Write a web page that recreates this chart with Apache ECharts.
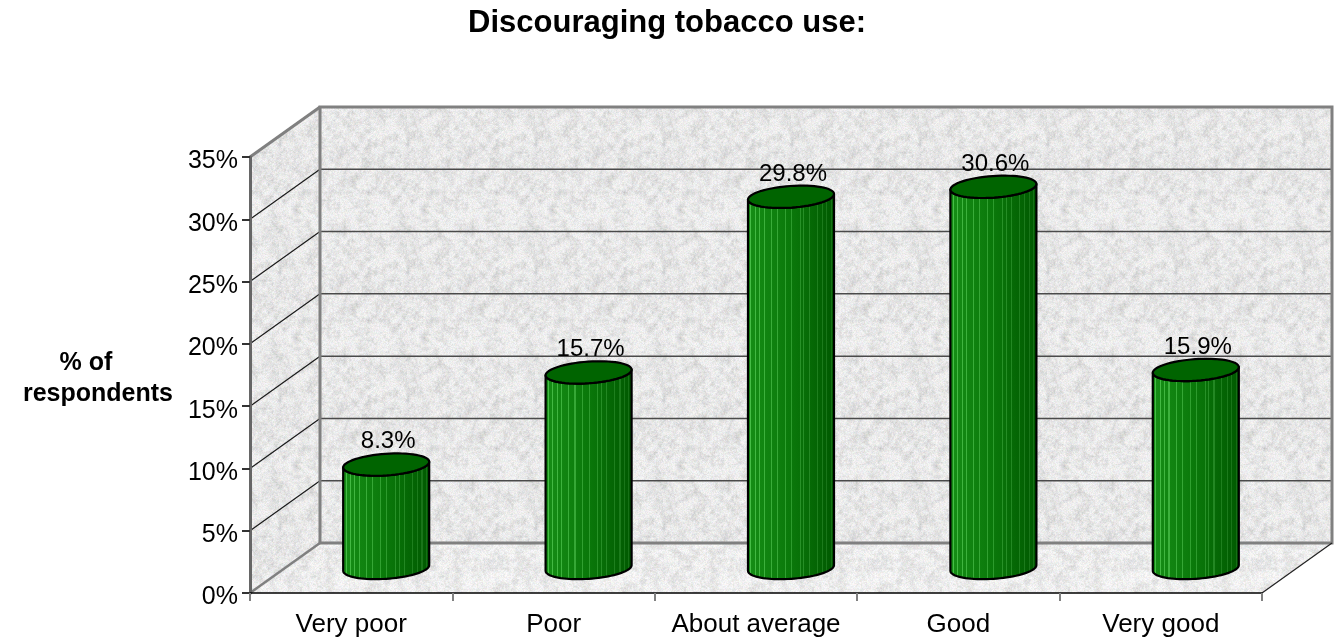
<!DOCTYPE html>
<html>
<head>
<meta charset="utf-8">
<title>Discouraging tobacco use</title>
<script src="https://cdn.jsdelivr.net/npm/echarts@6/dist/echarts.min.js"></script>
<style>
  html, body { margin: 0; padding: 0; background: #fff; }
  #chart { width: 1334px; height: 642px; }
</style>
</head>
<body>
<div id="chart"></div>
<script>
// Ratings and share of respondents
const categories = ['Very poor', 'Poor', 'About average', 'Good', 'Very good'];
const shares = [8.3, 15.7, 29.8, 30.6, 15.9];
const percentTicks = [0, 5, 10, 15, 20, 25, 30, 35];

// 3D box projection: offset of the back plane from the front plane (px)
const DEPTH_X = 70;
const DEPTH_Y = -50;
const TILT = -0.07;           // slight tilt of cylinder ellipses (rad)
const ARIAL = '"Liberation Sans", Arial, sans-serif';

// Granite-like wall texture, generated from a fixed-seed generator
function makeTexture(size, seed, base, spread) {
  const c = document.createElement('canvas');
  c.width = c.height = size;
  const ctx = c.getContext('2d');
  const img = ctx.createImageData(size, size);
  let s = seed >>> 0;
  const rnd = () => { s = (Math.imul(s, 1664525) + 1013904223) >>> 0; return s / 4294967296; };
  function layer(cell) {
    const n = size / cell;
    const g = [];
    for (let i = 0; i < n * n; i++) g.push(rnd());
    return (x, y) => {
      const fx = x / cell, fy = y / cell;
      const ix = Math.floor(fx), iy = Math.floor(fy);
      const tx = fx - ix, ty = fy - iy;
      const a = g[(iy % n) * n + (ix % n)], b = g[(iy % n) * n + ((ix + 1) % n)];
      const c2 = g[((iy + 1) % n) * n + (ix % n)], d = g[((iy + 1) % n) * n + ((ix + 1) % n)];
      return (a * (1 - tx) + b * tx) * (1 - ty) + (c2 * (1 - tx) + d * tx) * ty;
    };
  }
  const big = layer(8), mid = layer(4), small = layer(2);
  for (let y = 0; y < size; y++) {
    for (let x = 0; x < size; x++) {
      const v = big(x, y) * 0.35 + mid(x, y) * 0.35 + small(x, y) * 0.3;
      const k = Math.max(0, v - 0.4) * 1.7;
      const gray = base - k * spread + (rnd() - 0.5) * 16;
      const i = (y * size + x) * 4;
      img.data[i] = gray + (rnd() - 0.5) * 12;
      img.data[i + 1] = gray + (rnd() - 0.5) * 8;
      img.data[i + 2] = gray + (rnd() - 0.5) * 12;
      img.data[i + 3] = 255;
    }
  }
  ctx.putImageData(img, 0, 0);
  return c;
}
const wallTexture = makeTexture(128, 12345, 238, 38);
const floorTexture = makeTexture(128, 777, 242, 34);

// Cylinder side shading: light-to-dark green with thin lighter streaks
const streaks = [0.04, 0.09, 0.14, 0.19, 0.27, 0.34, 0.43, 0.5, 0.6, 0.64, 0.7, 0.79, 0.85, 0.9, 0.95];
function sideColor(f) {
  const a = [22, 142, 22], m = [10, 120, 10], b = [0, 88, 0];
  const p = f < 0.5 ? a : m, q = f < 0.5 ? m : b, t = f < 0.5 ? f / 0.5 : (f - 0.5) / 0.5;
  return p.map((v, i) => Math.round(v + (q[i] - v) * t));
}
function rgb(c) { return 'rgb(' + c.join(',') + ')'; }
function buildSideGradient() {
  const stops = [{ offset: 0, color: rgb(sideColor(0)) }];
  const w = 0.012;
  streaks.forEach(s => {
    const base0 = sideColor(s), base1 = sideColor(s + w);
    const lift = 1 - s * 0.6;
    const light0 = base0.map(v => Math.min(255, Math.round(v + 50 * lift)));
    const light1 = base1.map(v => Math.min(255, Math.round(v + 50 * lift)));
    stops.push({ offset: s, color: rgb(base0) });
    stops.push({ offset: s, color: rgb(light0) });
    stops.push({ offset: s + w, color: rgb(light1) });
    stops.push({ offset: s + w, color: rgb(base1) });
  });
  stops.push({ offset: 1, color: rgb(sideColor(1)) });
  return new echarts.graphic.LinearGradient(0, 0, 1, 0, stops);
}
const sideGradient = buildSideGradient();

// Walls, floor and gridlines of the 3D box
function renderBox(params, api) {
  const cs = params.coordSys;
  const x0 = cs.x, y0 = cs.y, w = cs.width, h = cs.height, yb = y0 + h;
  const wallFill = { image: wallTexture, repeat: 'repeat' };
  const floorFill = { image: floorTexture, repeat: 'repeat' };
  const kids = [];
  kids.push({ type: 'rect', shape: { x: x0 + DEPTH_X, y: y0 + DEPTH_Y, width: w, height: h }, style: { fill: wallFill } });
  kids.push({ type: 'polygon', shape: { points: [[x0, yb], [x0, y0], [x0 + DEPTH_X, y0 + DEPTH_Y], [x0 + DEPTH_X, yb + DEPTH_Y]] }, style: { fill: wallFill } });
  kids.push({ type: 'polygon', shape: { points: [[x0, yb], [x0 + DEPTH_X, yb + DEPTH_Y], [x0 + w + DEPTH_X, yb + DEPTH_Y], [x0 + w, yb]] }, style: { fill: floorFill } });
  percentTicks.slice(1, -1).forEach(v => {
    const y = api.coord([0, v])[1];
    kids.push({ type: 'line', shape: { x1: x0 + DEPTH_X, y1: y + DEPTH_Y, x2: x0 + w + DEPTH_X, y2: y + DEPTH_Y }, style: { stroke: '#4a4a4a', lineWidth: 1.5 } });
    kids.push({ type: 'line', shape: { x1: x0, y1: y, x2: x0 + DEPTH_X, y2: y + DEPTH_Y }, style: { stroke: '#1a1a1a', lineWidth: 1.2 } });
  });
  const gray = { stroke: '#808080', lineWidth: 3, fill: null };
  kids.push({ type: 'rect', shape: { x: x0 + DEPTH_X, y: y0 + DEPTH_Y, width: w, height: h }, style: gray });
  kids.push({ type: 'line', shape: { x1: x0, y1: y0, x2: x0 + DEPTH_X, y2: y0 + DEPTH_Y }, style: gray });
  kids.push({ type: 'line', shape: { x1: x0, y1: yb, x2: x0 + DEPTH_X, y2: yb + DEPTH_Y }, style: { stroke: '#808080', lineWidth: 2.5 } });
  kids.push({ type: 'line', shape: { x1: x0 + w, y1: yb, x2: x0 + w + DEPTH_X, y2: yb + DEPTH_Y }, style: { stroke: '#222', lineWidth: 1.2 } });
  return { type: 'group', children: kids, silent: true };
}

// One cylinder per category, standing mid-depth in the box
function renderCylinder(params, api) {
  const idx = api.value(0), val = api.value(1);
  const base = api.coord([idx, 0]);
  const top = api.coord([idx, val]);
  const band = api.size([1, 0])[0];
  const rx = band * 0.213, ry = rx * 0.25;
  const cx = base[0] + DEPTH_X / 2;
  const cyB = base[1] + DEPTH_Y / 2, cyT = top[1] + DEPTH_Y / 2;
  const cT = Math.cos(TILT), sT = Math.sin(TILT);
  const pt = (cy, t) => [cx + rx * Math.cos(t) * cT - ry * Math.sin(t) * sT,
                         cy + rx * Math.cos(t) * sT + ry * Math.sin(t) * cT];
  const t0 = Math.atan2(-ry * sT, rx * cT);
  const N = 40;
  const body = [];
  for (let i = 0; i <= N; i++) body.push(pt(cyB, t0 + Math.PI * i / N));
  for (let i = N; i >= 0; i--) body.push(pt(cyT, t0 + Math.PI * i / N));
  const cap = [];
  for (let i = 0; i < 64; i++) cap.push(pt(cyT, (Math.PI * 2 * i) / 64));
  return {
    type: 'group',
    children: [
      { type: 'polygon', shape: { points: body }, style: { fill: sideGradient, stroke: '#000', lineWidth: 2.2, lineJoin: 'round' } },
      { type: 'polygon', shape: { points: cap }, style: { fill: '#006400', stroke: '#000', lineWidth: 2.2 } },
      { type: 'text', style: { text: val + '%', x: cx + 2, y: cyT - ry, align: 'center', verticalAlign: 'bottom',
          font: '24px ' + ARIAL, fill: '#000' } }
    ]
  };
}

const chart = echarts.init(document.getElementById('chart'));
chart.setOption({
  backgroundColor: '#ffffff',
  animation: false,
  title: {
    text: 'Discouraging tobacco use:',
    left: 'center',
    top: 3,
    padding: [5, 0, 5, 24],
    textStyle: { fontFamily: ARIAL, fontWeight: 'bold', fontSize: 31, color: '#000' }
  },
  grid: { left: 250, right: 72, top: 157, bottom: 49, containLabel: false },
  xAxis: {
    type: 'category',
    data: categories,
    z: 3,
    axisLine: { show: true, lineStyle: { color: '#000', width: 1.5 } },
    axisTick: { show: true, interval: 0, length: 8, lineStyle: { color: '#808080', width: 2 } },
    axisLabel: { interval: 0, margin: 19, color: '#000', fontSize: 26, fontFamily: ARIAL },
    splitLine: { show: false }
  },
  yAxis: {
    type: 'value',
    min: percentTicks[0],
    max: percentTicks[percentTicks.length - 1],
    interval: percentTicks[1] - percentTicks[0],
    z: 3,
    name: '{a|% of}\n{b|respondents}',
    nameLocation: 'middle',
    nameRotate: 0,
    nameGap: 152,
    nameTextStyle: {
      align: 'center', verticalAlign: 'middle', color: '#000', padding: [7, 0, 0, 0],
      rich: {
        a: { fontFamily: ARIAL, fontWeight: 'bold', fontSize: 25, lineHeight: 31, padding: [0, 24, 0, 0] },
        b: { fontFamily: ARIAL, fontWeight: 'bold', fontSize: 25, lineHeight: 31 }
      }
    },
    axisLine: { show: true, lineStyle: { color: '#666', width: 3 } },
    axisTick: { show: true, length: 8, lineStyle: { color: '#333', width: 2 } },
    axisLabel: {
      formatter: v => '{v|' + v + '%}',
      margin: 12,
      rich: { v: { color: '#000', fontSize: 25, fontFamily: ARIAL, padding: [9, 0, 0, 0] } }
    },
    splitLine: { show: false }
  },
  series: [
    { type: 'custom', z: 1, silent: true, renderItem: renderBox, data: [[0, 0]] },
    { type: 'custom', z: 4, renderItem: renderCylinder, encode: { x: 0, y: 1 },
      data: categories.map((c, i) => [i, shares[i]]) }
  ]
});
</script>
</body>
</html>
